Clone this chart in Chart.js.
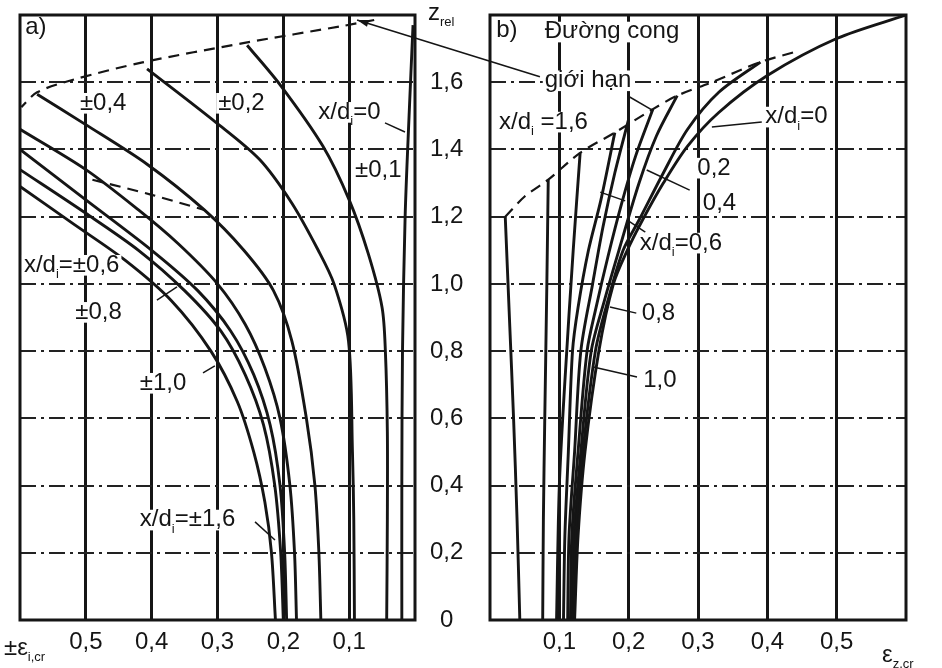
<!DOCTYPE html>
<html>
<head>
<meta charset="utf-8">
<script src="https://cdn.jsdelivr.net/npm/chart.js@4.4.1/dist/chart.umd.min.js"></script>
<style>
    body { margin: 0; background: #fff; }
    #wrap { position: relative; width: 942px; height: 668px; overflow: hidden; }
    canvas { position: absolute; top: 0; }
    #ca { left: 0; }
    #cb { left: 482px; }
    #over { left: 0; pointer-events: none; }
</style>
</head>
<body>
<div id="wrap">
    <canvas id="ca" width="482" height="668" style="width:482px;height:668px"></canvas>
    <canvas id="cb" width="460" height="668" style="width:460px;height:668px"></canvas>
    <canvas id="over" width="942" height="668" style="width:942px;height:668px"></canvas>
</div>
<script>
const FONT = '"Liberation Sans", Arial, sans-serif'
const INK = "#151515"

// tick values
const zTicks = [0, 0.2, 0.4, 0.6, 0.8, 1.0, 1.2, 1.4, 1.6]
const epsTicks = [0.1, 0.2, 0.3, 0.4, 0.5]

// a) horizontal strain, points are [eps, z_rel]
const a00 = [[0.02, 0], [0.02, 0.4], [0.019, 0.8], [0.015, 1.2], [0.009, 1.5], [0.003, 1.77]]
const a01 = [[0.043, 0], [0.042, 0.3], [0.042, 0.56], [0.045, 0.8], [0.05, 0.93], [0.071, 1.09], [0.1, 1.25], [0.14, 1.41], [0.204, 1.59], [0.255, 1.71]]
const a02 = [[0.092, 0], [0.093, 0.3], [0.095, 0.5], [0.101, 0.83], [0.123, 1.0], [0.147, 1.1], [0.187, 1.24], [0.236, 1.37], [0.302, 1.48], [0.407, 1.64]]
const a04 = [[0.143, 0], [0.146, 0.2], [0.152, 0.4], [0.165, 0.6], [0.187, 0.83], [0.215, 0.98], [0.26, 1.1], [0.32, 1.22], [0.407, 1.356], [0.502, 1.476], [0.574, 1.564]]
const a06 = [[0.18, 0], [0.183, 0.2], [0.19, 0.4], [0.205, 0.6], [0.228, 0.75], [0.258, 0.88], [0.3, 1.0], [0.36, 1.12], [0.42, 1.22], [0.5, 1.34], [0.6, 1.46]]
const a08 = [[0.195, 0], [0.198, 0.2], [0.205, 0.4], [0.22, 0.58], [0.245, 0.73], [0.28, 0.86], [0.33, 0.98], [0.4, 1.1], [0.5, 1.25], [0.6, 1.4]]
const a10 = [[0.2, 0], [0.204, 0.2], [0.213, 0.4], [0.23, 0.58], [0.258, 0.73], [0.295, 0.86], [0.35, 0.98], [0.42, 1.1], [0.5, 1.21], [0.6, 1.34]]
const a16 = [[0.212, 0], [0.218, 0.2], [0.228, 0.35], [0.245, 0.5], [0.27, 0.65], [0.31, 0.8], [0.37, 0.95], [0.44, 1.07], [0.52, 1.18], [0.6, 1.29]]
const aLimit = [[0.062, 1.785], [0.108, 1.768], [0.259, 1.717], [0.414, 1.659], [0.522, 1.606], [0.574, 1.57], [0.598, 1.526]]
const aLimit2 = [[0.49, 1.31], [0.4, 1.265], [0.32, 1.22]]

// b) vertical strain
const b00 = [[0.6, 1.8], [0.5, 1.73], [0.4, 1.62], [0.33, 1.51], [0.285, 1.41], [0.25, 1.3], [0.22, 1.19], [0.198, 1.1], [0.178, 1.0], [0.157, 0.8], [0.137, 0.5], [0.127, 0.25], [0.122, 0]]
const b02 = [[0.39, 1.66], [0.33, 1.57], [0.285, 1.46], [0.25, 1.33], [0.215, 1.19], [0.192, 1.1], [0.17, 0.95], [0.152, 0.8], [0.134, 0.5], [0.124, 0.25], [0.12, 0]]
const b04 = [[0.27, 1.56], [0.24, 1.44], [0.215, 1.3], [0.186, 1.1], [0.165, 0.95], [0.146, 0.8], [0.131, 0.5], [0.121, 0.25], [0.118, 0]]
const b06 = [[0.235, 1.52], [0.21, 1.38], [0.19, 1.24], [0.17, 1.08], [0.153, 0.93], [0.14, 0.8], [0.127, 0.5], [0.118, 0.25], [0.116, 0]]
const b08 = [[0.2, 1.49], [0.18, 1.33], [0.163, 1.17], [0.148, 1.0], [0.131, 0.8], [0.122, 0.5], [0.114, 0.25], [0.112, 0]]
const b10 = [[0.18, 1.45], [0.16, 1.25], [0.142, 1.1], [0.127, 0.93], [0.119, 0.8], [0.113, 0.5], [0.108, 0.25], [0.106, 0]]
const b12 = [[0.13, 1.39], [0.12, 1.1], [0.108, 0.71], [0.1, 0.4], [0.096, 0]]
const b14 = [[0.084, 1.31], [0.082, 1.0], [0.079, 0.6], [0.077, 0.3], [0.076, 0]]
const b16 = [[0.022, 1.2], [0.028, 0.9], [0.034, 0.6], [0.039, 0.3], [0.043, 0]]
const bLimit = [[0.022, 1.2], [0.05, 1.26], [0.084, 1.31], [0.13, 1.39], [0.18, 1.45], [0.235, 1.52], [0.27, 1.56], [0.32, 1.6], [0.39, 1.66], [0.44, 1.69]]

// text on the plot: [text, eps, z]  (_{..} = subscript)
const labelsA = [
    ["a)", 0.592, 1.764],
    ["±0,4", 0.509, 1.538],
    ["±0,2", 0.299, 1.538],
    ["x/d_{i}=0", 0.147, 1.511],
    ["±0,1", 0.091, 1.339],
    ["x/d_{i}=±0,6", 0.594, 1.056],
    ["±0,8", 0.516, 0.916],
    ["±1,0", 0.418, 0.705],
    ["x/d_{i}=±1,6", 0.418, 0.298]
]
const leadersA = [
    [0.0456, 1.479, 0.0152, 1.452],
    [0.392, 0.952, 0.3615, 0.991],
    [0.322, 0.735, 0.304, 0.756],
    [0.243, 0.292, 0.2127, 0.238]
]
const labelsB = [
    ["b)", 0.009, 1.755],
    ["Đường cong", 0.079, 1.75],
    ["giới hạn", 0.079, 1.605],
    ["x/d_{i} =1,6", 0.013, 1.482],
    ["x/d_{i}=0", 0.397, 1.497],
    ["0,2", 0.299, 1.345],
    ["0,4", 0.307, 1.241],
    ["x/d_{i}=0,6", 0.216, 1.122],
    ["0,8", 0.219, 0.913],
    ["1,0", 0.221, 0.714]
]
const leadersB = [
    [0.226, 1.339, 0.288, 1.279],
    [0.159, 1.273, 0.195, 1.247],
    [0.32, 1.467, 0.392, 1.482],
    [0.198, 1.19, 0.224, 1.154],
    [0.173, 0.931, 0.211, 0.913],
    [0.149, 0.753, 0.212, 0.723],
    [0.199, 1.559, 0.234, 1.517]
]

const fmt = v => v === 0 ? "0" : v.toFixed(1).replace(".", ",")

const curve = (pts, dashed) => ({
    data: pts.map(p => ({ x: p[0], y: p[1] })),
    showLine: true,
    borderColor: INK,
    borderWidth: dashed ? 2.2 : 2.9,
    borderDash: dashed ? [11, 7] : [],
    pointRadius: 0,
    tension: 0.3,
    fill: false
})

function drawRich(ctx, str, x, y, size, bg) {
    const parts = []
    str.split(/(_\{[^}]*\})/).forEach(s => {
        if (!s) return
        if (s.startsWith("_{")) parts.push({ t: s.slice(2, -1), sub: true })
        else parts.push({ t: s, sub: false })
    })
    const subSize = Math.round(size * 0.55)
    let w = 0
    parts.forEach(p => {
        ctx.font = `${p.sub ? subSize : size}px ${FONT}`
        p.w = ctx.measureText(p.t).width
        w += p.w
    })
    if (bg) {
        ctx.fillStyle = "#fff"
        ctx.fillRect(x - 2, y - size * 0.42, w + 4, size * 0.86)
    }
    ctx.fillStyle = INK
    ctx.textBaseline = "middle"
    ctx.textAlign = "left"
    let cx = x
    parts.forEach(p => {
        ctx.font = `${p.sub ? subSize : size}px ${FONT}`
        ctx.fillText(p.t, cx, p.sub ? y + size * 0.38 : y)
        cx += p.w
    })
}

const decorate = (labels, leaders, extra) => ({
    id: "decorate",
    afterDatasetsDraw(chart) {
        const { ctx, chartArea: ca, scales: { x, y } } = chart
        ctx.save()
        ctx.strokeStyle = INK
        ctx.lineWidth = 3
        ctx.setLineDash([])
        ctx.strokeRect(ca.left, ca.top, ca.right - ca.left, ca.bottom - ca.top)
        ctx.lineWidth = 1.5
        leaders.forEach(l => {
            ctx.beginPath()
            ctx.moveTo(x.getPixelForValue(l[0]), y.getPixelForValue(l[1]))
            ctx.lineTo(x.getPixelForValue(l[2]), y.getPixelForValue(l[3]))
            ctx.stroke()
        })
        labels.forEach(l => drawRich(ctx, l[0], x.getPixelForValue(l[1]), y.getPixelForValue(l[2]), 24, true))
        if (extra) extra(chart)
        ctx.restore()
    }
})

const baseScales = (reverse, yPos) => ({
    x: {
        type: "linear", min: 0, max: 0.6, reverse: reverse,
        afterBuildTicks: s => { s.ticks = epsTicks.map(v => ({ value: v })) },
        afterFit: s => { s.height = 48; s.paddingLeft = 0; s.paddingRight = 0 },
        ticks: { callback: v => fmt(v), color: INK, font: { family: FONT, size: 24 }, padding: 8, maxRotation: 0, autoSkip: false },
        grid: { color: INK, lineWidth: 3, drawTicks: false },
        border: { display: false }
    },
    y: {
        type: "linear", min: 0, max: 1.8, position: yPos,
        afterBuildTicks: s => { s.ticks = zTicks.map(v => ({ value: v })) },
        afterFit: s => { s.width = yPos === "right" ? 67 : 0; s.paddingTop = 0; s.paddingBottom = 0 },
        ticks: { display: yPos === "right", callback: v => fmt(v), color: INK, font: { family: FONT, size: 24 }, crossAlign: "center", padding: 15 },
        grid: { color: "#222", lineWidth: 2, drawTicks: false },
        border: { display: false, dash: [16, 5, 3, 5] }
    }
})

const common = {
    responsive: false,
    animation: false,
    events: [],
    plugins: { legend: { display: false }, tooltip: { enabled: false } }
}

const chartA = new Chart(document.getElementById("ca"), {
    type: "scatter",
    data: {
        datasets: [a00, a01, a02, a04, a06, a08, a10, a16].map(c => curve(c, false))
            .concat([curve(aLimit, true), curve(aLimit2, true)])
    },
    options: Object.assign({}, common, {
        layout: { padding: { left: 20, top: 15, right: 0, bottom: 0 } },
        scales: baseScales(true, "right")
    }),
    plugins: [decorate(labelsA, leadersA, chart => {
        const ys = chart.scales.y
        drawRich(chart.ctx, "z_{rel}", ys.left + 13, 13, 24, false)
        drawRich(chart.ctx, "±ε_{i,cr}", 4, 648, 24, false)
    })]
})

const chartB = new Chart(document.getElementById("cb"), {
    type: "scatter",
    data: {
        datasets: [b00, b02, b04, b06, b08, b10, b12, b14, b16].map(c => curve(c, false))
            .concat([curve(bLimit, true)])
    },
    options: Object.assign({}, common, {
        layout: { padding: { left: 8, top: 15, right: 36, bottom: 0 } },
        scales: baseScales(false, "left")
    }),
    plugins: [decorate(labelsB, leadersB, chart => {
        drawRich(chart.ctx, "ε_{z,cr}", 400, 655, 24, false)
    })]
})

// leader from "giới hạn" across to the limit curve of panel a
const ov = document.getElementById("over").getContext("2d")
const x1 = 482 + chartB.scales.x.getPixelForValue(0.072), y1 = chartB.scales.y.getPixelForValue(1.616)
const x2 = chartA.scales.x.getPixelForValue(0.088), y2 = chartA.scales.y.getPixelForValue(1.785)
ov.strokeStyle = INK
ov.fillStyle = INK
ov.lineWidth = 1.6
ov.beginPath()
ov.moveTo(x1, y1)
ov.lineTo(x2, y2)
ov.stroke()
const ang = Math.atan2(y2 - y1, x2 - x1)
ov.beginPath()
ov.moveTo(x2, y2)
ov.lineTo(x2 - 12 * Math.cos(ang - 0.3), y2 - 12 * Math.sin(ang - 0.3))
ov.lineTo(x2 - 12 * Math.cos(ang + 0.3), y2 - 12 * Math.sin(ang + 0.3))
ov.closePath()
ov.fill()
</script>
</body>
</html>
